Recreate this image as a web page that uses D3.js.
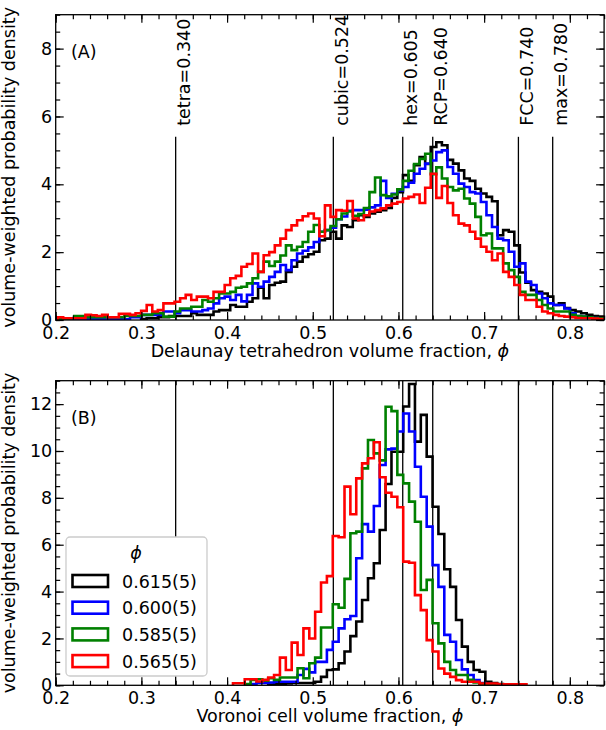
<!DOCTYPE html>
<html>
<head>
<meta charset="utf-8">
<script src="https://cdn.jsdelivr.net/npm/d3@7"></script>
<style>
  html, body { margin: 0; padding: 0; background: #fff; }
  svg { display: block; font-family: "DejaVu Sans", sans-serif; }
</style>
</head>
<body>
<div id="chart"></div>
<script>
// ---- data ----------------------------------------------------------------
const X_DOMAIN = [0.2, 0.84];
const X_TICKS = [0.2, 0.3, 0.4, 0.5, 0.6, 0.7, 0.8];
const Y_TICKS_A = [0, 2, 4, 6, 8];
const Y_TICKS_B = [0, 2, 4, 6, 8, 10, 12];
const Y_MAX_A = 9;
const Y_MAX_B = 13;

// reference packing fractions
const refNames = ['tetra', 'cubic', 'hex', 'RCP', 'FCC', 'max'];
const refValues = [0.340, 0.524, 0.605, 0.640, 0.740, 0.780];
const REF_LINE_TOP_A = 5.4;

const seriesLabels = ['0.615(5)', '0.600(5)', '0.585(5)', '0.565(5)'];
const seriesColors = ['#000000', '#0000ff', '#008000', '#ff0000'];

// (A) Delaunay tetrahedron histograms, bin start / width
const A_BIN_START = 0.2022;
const A_BIN_WIDTH = 0.0065;
const blackA = [0,0,0,0,0,0,0,0,0,0,0,0,0,0,0,0.03,0.05,0.05,0.08,0.08,
  0.12,0.12,0.12,0.12,0.2,0.15,0.15,0.15,0.25,0.29,0.29,0.44,0.39,0.39,0.54,0.64,0.95,0.64,1.03,1.1,
  1.13,1.42,1.57,1.72,1.86,1.94,2.01,2.35,2.4,2.6,2.4,2.79,2.74,2.94,3.09,3.04,3.14,3.19,3.24,3.3,
  3.6,3.77,4.27,4.1,4.56,4.8,4.6,5.1,5.24,5.15,4.72,4.61,4.41,4.17,4.1,3.87,3.73,3.63,3.5,2.5,
  2.65,2.6,2.2,1.4,1.1,0.88,0.83,0.78,0.69,0.44,0.49,0.35,0.29,0.25,0.2,0.15,0.12,0.1,0.08];
const blueA = [0.05,0.02,0.02,0.02,0.02,0.02,0.02,0.02,0.02,0.02,0.02,0.02,0.02,0.08,0.08,0.15,0.15,0.15,0.15,0.25,
  0.25,0.2,0.29,0.29,0.25,0.25,0.29,0.34,0.49,0.64,0.69,0.59,0.74,0.55,0.74,1.08,0.98,1.13,1.27,1.42,
  1.62,1.47,1.76,1.96,2.04,2.14,2.3,2.6,2.65,2.72,2.97,3.05,3.22,3.24,3.24,3.25,3.32,3.38,4.1,3.6,
  3.72,3.82,3.92,4.05,4.31,4.46,4.61,4.7,4.95,5.0,4.51,4.31,4.02,3.92,3.77,3.73,3.48,3.09,2.74,2.4,
  2.35,2.01,1.57,1.67,1.13,1.03,0.78,0.64,0.49,0.44,0.44,0.34,0.2,0.12,0.1,0.08,0.06,0.05,0.04];
const greenA = [0.03,0.03,0.05,0.12,0.12,0.08,0.08,0.08,0.08,0.08,0.08,0.08,0.12,0.12,0.12,0.15,0.15,0.2,0.2,0.1,
  0.1,0.25,0.34,0.34,0.39,0.39,0.59,0.54,0.64,0.78,0.78,0.83,0.95,0.98,1.08,1.23,1.42,1.72,1.59,1.72,
  1.9,2.2,2.06,2.16,2.3,2.6,2.8,2.6,2.65,2.77,2.97,3.14,3.2,3.07,3.12,3.3,3.77,4.2,3.68,3.65,
  3.7,3.85,4.1,4.4,4.6,4.75,4.9,4.3,4.5,4.17,3.92,3.82,3.87,3.58,3.43,3.04,2.5,2.55,2.11,2.11,
  1.67,1.47,1.27,0.83,0.74,0.74,0.59,0.44,0.34,0.25,0.25,0.25,0.15,0.12,0.1,0.08,0.06,0.05,0.04];
const redA = [0.08,0.05,0.05,0.05,0.05,0.15,0.14,0.12,0.15,0.08,0.08,0.18,0.18,0.15,0.2,0.27,0.44,0.25,0.29,0.49,
  0.49,0.54,0.64,0.74,0.59,0.69,0.69,0.64,0.83,0.83,1.03,1.23,1.3,1.57,1.65,1.96,1.42,1.91,2.0,2.2,
  2.4,2.65,2.79,2.94,3.06,3.14,2.99,2.47,3.38,3.04,3.24,3.22,3.51,2.99,2.94,3.09,3.2,3.24,3.29,3.38,
  3.43,3.48,3.58,3.63,3.7,3.45,3.9,4.31,3.6,3.95,3.45,3.09,2.84,2.79,2.6,2.4,2.16,2.01,1.76,1.96,
  1.42,1.27,1.03,0.74,0.59,0.59,0.39,0.25,0.2,0.15,0.12,0.1,0.08,0.06,0.05,0.05,0.04,0.03,0.03];

// (B) Voronoi cell histograms, bin start / width
const B_BIN_START = 0.4069;
const B_BIN_WIDTH = 0.00685;
const blackB = [0,0,0,0,0,0,0.03,0.05,0.05,0.08,0.1,0.1,0.1,0.1,0.15,0.36,0.65,0.68,0.94,1.44,
  2.1,2.72,3.64,4.57,5.21,6.63,8.59,9.97,9.97,11.9,12.86,10.4,11.54,9.76,7.62,6.46,4.95,4.2,2.79,1.65,
  1.0,0.65,0.58,0.15,0.1,0.05,0.03,0,0,0];
const blueB = [0,0,0,0.05,0.1,0.1,0.12,0.15,0.15,0.15,0.15,0.44,0.7,0.55,1.0,1.0,1.51,1.86,2.43,2.82,
  2.96,5.42,6.88,6.56,7.65,9.4,10.07,10.1,10.83,11.6,10.83,9.33,8.05,6.77,5.13,4.2,2.15,1.86,1.08,0.68,
  0.44,0.22,0.1,0.05,0.03,0.02,0,0,0,0];
const greenB = [0,0,0.05,0.23,0.26,0.2,0.3,0.23,0.33,0.33,0.33,0.73,0.3,0.94,1.18,2.47,2.47,3.46,3.31,4.54,
  6.49,6.56,9.26,10.47,9.9,9.6,11.89,11.7,8.98,8.62,7.84,6.98,4.07,4.5,2.65,1.79,1.0,0.65,0.44,0.44,
  0.23,0.12,0.06,0.04,0.02,0,0,0,0,0];
const redB = [0.09,0.09,0.26,0.26,0.16,0.23,0.33,0.44,1.18,0.65,1.82,1.29,2.43,2.0,3.14,4.39,4.66,6.37,6.32,8.48,
  7.3,8.83,9.47,9.69,10.37,8.88,8.22,8.05,7.6,5.28,5.23,3.85,3.21,1.93,1.44,0.72,0.5,0.36,0.22,0.15,
  0.15,0.15,0.08,0.08,0.08,0.04,0.04,0.04,0.04,0.04];

// ---- drawing -------------------------------------------------------------
const width = 606, height = 730;
const left = 55.7, right = 604.1;
const FONT = 17.5;

const svg = d3.select('#chart').append('svg')
  .attr('width', width).attr('height', height)
  .attr('viewBox', `0 0 ${width} ${height}`);

const x = d3.scaleLinear().domain(X_DOMAIN).range([left, right]);
const minorX = d3.range(10, 43).map(i => i / 50);

function stepPoints(values, start, w) {
  let first = values.findIndex(v => v > 0);
  let last = values.length - 1;
  while (last > 0 && values[last] <= 0) last--;
  const pts = [[start + first * w, 0]];
  for (let i = first; i <= last; i++) pts.push([start + i * w, values[i]]);
  pts.push([start + (last + 1) * w, values[last]]);
  pts.push([start + (last + 1) * w, 0]);
  return pts;
}

function styleAxis(g, withLabels) {
  g.select('.domain').remove();
  g.selectAll('.tick line').attr('stroke', '#000').attr('stroke-width', 1.2);
  g.selectAll('.tick text')
    .attr('font-family', '"DejaVu Sans", sans-serif')
    .attr('font-size', FONT + 'px')
    .attr('fill', '#000');
  if (!withLabels) g.selectAll('.tick text').remove();
}

function drawPanel(id, top, bottom, yMax, yTicks, series, binStart, binWidth, xTitle, tag, lineTop) {
  const y = d3.scaleLinear().domain([0, yMax]).range([bottom, top]);
  const g = svg.append('g');
  const minorY = d3.range(0, yMax * 2 + 1).map(i => i / 2);

  // reference lines
  refValues.forEach(v => {
    g.append('line')
      .attr('x1', x(v)).attr('x2', x(v))
      .attr('y1', y(0)).attr('y2', y(lineTop))
      .attr('stroke', '#000').attr('stroke-width', 1.3);
  });

  // histograms
  g.append('clipPath').attr('id', 'clip' + id)
    .append('rect').attr('x', left).attr('y', top)
    .attr('width', right - left).attr('height', bottom - top);

  const line = d3.line()
    .x(d => x(d[0])).y(d => y(d[1]))
    .curve(d3.curveStepAfter);

  series.forEach((vals, i) => {
    g.append('path')
      .attr('clip-path', `url(#clip${id})`)
      .attr('d', line(stepPoints(vals, binStart, binWidth)))
      .attr('fill', 'none')
      .attr('stroke', seriesColors[i])
      .attr('stroke-width', 2.6)
      .attr('stroke-linejoin', 'miter');
  });

  // axes (ticks pointing inwards on all four sides)
  const gb = g.append('g').attr('transform', `translate(0,${bottom})`)
    .call(d3.axisBottom(x).tickValues(X_TICKS).tickFormat(d3.format('.1f')).tickSize(-8).tickPadding(6.5));
  styleAxis(gb, true);
  const gbm = g.append('g').attr('transform', `translate(0,${bottom})`)
    .call(d3.axisBottom(x).tickValues(minorX).tickFormat('').tickSize(-4.5));
  styleAxis(gbm, false);
  const gt = g.append('g').attr('transform', `translate(0,${top})`)
    .call(d3.axisTop(x).tickValues(X_TICKS).tickSize(-8));
  styleAxis(gt, false);
  const gtm = g.append('g').attr('transform', `translate(0,${top})`)
    .call(d3.axisTop(x).tickValues(minorX).tickSize(-4.5));
  styleAxis(gtm, false);

  const gl = g.append('g').attr('transform', `translate(${left},0)`)
    .call(d3.axisLeft(y).tickValues(yTicks).tickFormat(d3.format('d')).tickSize(-8).tickPadding(3.5));
  styleAxis(gl, true);
  const glm = g.append('g').attr('transform', `translate(${left},0)`)
    .call(d3.axisLeft(y).tickValues(minorY).tickFormat('').tickSize(-4.5));
  styleAxis(glm, false);
  const gr = g.append('g').attr('transform', `translate(${right},0)`)
    .call(d3.axisRight(y).tickValues(yTicks).tickSize(-8));
  styleAxis(gr, false);
  const grm = g.append('g').attr('transform', `translate(${right},0)`)
    .call(d3.axisRight(y).tickValues(minorY).tickSize(-4.5));
  styleAxis(grm, false);

  // frame
  g.append('rect')
    .attr('x', left).attr('y', top)
    .attr('width', right - left).attr('height', bottom - top)
    .attr('fill', 'none').attr('stroke', '#000').attr('stroke-width', 1.3);

  // titles
  const xt = g.append('text')
    .attr('x', (left + right) / 2).attr('y', bottom + 36.5)
    .attr('text-anchor', 'middle').attr('font-size', FONT + 'px')
    .text(xTitle + ', ');
  xt.append('tspan').attr('font-style', 'italic').text('ϕ');

  g.append('text')
    .attr('transform', `translate(15,${(top + bottom) / 2}) rotate(-90)`)
    .attr('text-anchor', 'middle').attr('font-size', FONT + 'px')
    .text('volume-weighted probability density');

  g.append('text')
    .attr('x', 71).attr('y', top + 43.5)
    .attr('font-size', FONT + 'px')
    .text(tag);

  return { g, y };
}

const A = drawPanel('A', 14.7, 320, Y_MAX_A, Y_TICKS_A, [blackA, blueA, greenA, redA],
  A_BIN_START, A_BIN_WIDTH, 'Delaunay tetrahedron volume fraction', '(A)', REF_LINE_TOP_A);

// labels of the reference lines in (A)
refValues.forEach((v, i) => {
  A.g.append('text')
    .attr('transform', `translate(${x(v) + 14.5},${A.y(REF_LINE_TOP_A) - 11}) rotate(-90)`)
    .attr('font-size', FONT + 'px')
    .text(`${refNames[i]}=${v.toFixed(3)}`);
});

const B = drawPanel('B', 380.7, 685.3, Y_MAX_B, Y_TICKS_B, [blackB, blueB, greenB, redB],
  B_BIN_START, B_BIN_WIDTH, 'Voronoi cell volume fraction', '(B)', Y_MAX_B);

// legend
const lg = B.g.append('g').attr('transform', 'translate(66,537)');
lg.append('rect')
  .attr('width', 141).attr('height', 139).attr('rx', 4)
  .attr('fill', '#fff').attr('stroke', '#cccccc').attr('stroke-width', 1.3);
lg.append('text')
  .attr('x', 70).attr('y', 21.5)
  .attr('text-anchor', 'middle').attr('font-size', FONT + 'px')
  .attr('font-style', 'italic')
  .text('ϕ');
seriesLabels.forEach((lab, i) => {
  const row = lg.append('g').attr('transform', `translate(0,${38 + i * 26.7})`);
  row.append('rect')
    .attr('x', 6.5).attr('y', 0).attr('width', 35.5).attr('height', 12)
    .attr('fill', 'none').attr('stroke', seriesColors[i]).attr('stroke-width', 2.6);
  row.append('text')
    .attr('x', 56).attr('y', 12.5)
    .attr('font-size', FONT + 'px')
    .text(lab);
});
</script>
</body>
</html>
